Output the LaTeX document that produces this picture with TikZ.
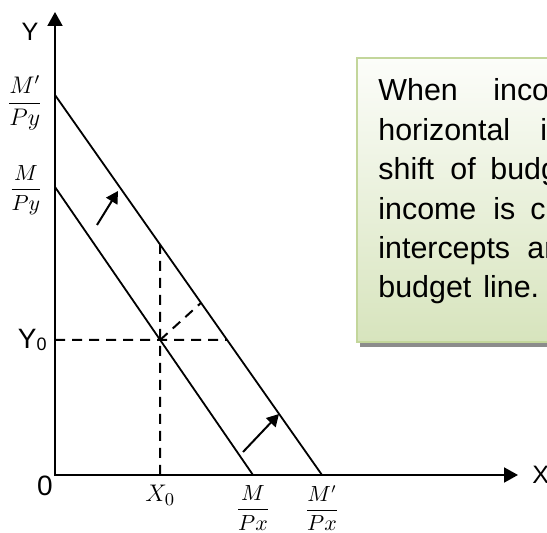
\documentclass[tikz,border=0pt]{standalone}
\usepackage{amsmath}
\usepackage[no-math]{fontspec}
\setmainfont{Liberation Sans}
\usepackage{tikz}
\usetikzlibrary{arrows.meta,positioning,calc}
\definecolor{boxedge}{HTML}{C3D69B}
\definecolor{boxtop}{HTML}{FCFDFA}
\definecolor{boxbot}{HTML}{D7E4BD}
\definecolor{shadowgray}{HTML}{8C8C8C}

\begin{document}
\begin{tikzpicture}[
  x=0.5pt,y=-0.5pt,
  axis/.style={{Triangle[length=7pt,width=7.5pt]}-{Triangle[length=7pt,width=7.5pt]},line width=1pt},
  budget/.style={line width=0.9pt},
  guide/.style={line width=1pt,dash pattern=on 5pt off 3.5pt},
  shiftarr/.style={-{Triangle[length=6pt,width=6.5pt]},line width=1pt},
  axlbl/.style={inner sep=0pt,font=\fontsize{12.6}{14}\selectfont},
  smallfrac/.style={inner sep=0pt,font=\fontsize{10.5}{12}\selectfont},
  bigfrac/.style={inner sep=0pt,font=\fontsize{12}{14}\selectfont},
  boxtext/.style={inner sep=0pt,anchor=base west,font=\fontsize{15.2}{19}\selectfont}
  ]
  \useasboundingbox (0,0) rectangle (547,533);
  % note box, cut off by the right edge
  \begin{scope}
    \clip (0,0) rectangle (547,533);
    \fill[shadowgray] (360,62) rectangle (566,347);
    \shadedraw[top color=boxtop,bottom color=boxbot,draw=boxedge,line width=1pt] (357,58) rectangle (563,342);
    \foreach \txt [count=\i] in {{\makebox[57.5pt][l]{When}inco},
        {\makebox[81pt][l]{horizontal}i},
        {\makebox[36pt][l]{shift}\makebox[20pt][l]{of}budg},
        {\makebox[57.5pt][l]{income}\makebox[18.5pt][l]{is}c},
        {\makebox[74.5pt][l]{intercepts}ar},
        {\makebox[52.5pt][l]{budget}line.}}
      \node[boxtext] (note\i) at (378,{101+39.4*(\i-1)}) {\txt};
  \end{scope}
  % axes
  \coordinate (O) at (55,475);
  \coordinate (ytop) at (55,12);
  \coordinate (xend) at (518,475);
  \draw[axis] (ytop) -- (O) -- (xend);
  % budget lines
  \coordinate (A1) at (55,187);
  \coordinate (B1) at (253,475);
  \coordinate (A2) at (55,95);
  \coordinate (B2) at (322,475);
  \draw[budget] (A1) -- (B1);
  \draw[budget] (A2) -- (B2);
  % dashed guides
  \coordinate (E) at ($(A1)!0.531!(B1)$);
  \coordinate (X0) at (E |- O);
  \coordinate (Y0) at (E -| O);
  \coordinate (Ed) at ($(E)+(44,-40)$);
  \coordinate (V) at (intersection of X0--E and A2--B2);
  \coordinate (H) at (intersection of Y0--E and A2--B2);
  \coordinate (D) at (intersection of E--Ed and A2--B2);
  \draw[guide] (X0) -- (V);
  \draw[guide] (Y0) -- (H);
  \draw[guide] (E) -- (D);
  % shift arrows
  \coordinate (s1) at (97,225);
  \coordinate (t1) at (118,191);
  \coordinate (s2) at (243,452);
  \coordinate (t2) at (279,414);
  \draw[shiftarr] (s1) -- (t1);
  \draw[shiftarr] (s2) -- (t2);
  % labels
  \node[axlbl] (ylbl) at (30,32) {Y};
  \node[axlbl,right=7pt of xend] (xlbl) {X};
  \node[axlbl,font=\fontsize{14}{16}\selectfont,below left=0.5pt and 1pt of O] (olbl) {0};
  \node[axlbl,font=\fontsize{14}{16}\selectfont,left=4pt of Y0] (y0lbl) {Y\raisebox{-1pt}{\fontsize{9}{10}\selectfont 0}};
  \node[bigfrac,left=6pt of A2,yshift=-4pt] (mpy2) {$\dfrac{M'}{Py}$};
  \node[smallfrac,left=6pt of A1,yshift=-1.5pt] (mpy1) {$\dfrac{M}{Py}$};
  \node[axlbl,font=\fontsize{13}{15}\selectfont,below=5pt of X0] (x0lbl) {$X_0$};
  \node[smallfrac,below=5pt of B1] (mpx1) {$\dfrac{M}{Px}$};
  \node[smallfrac,below=5pt of B2] (mpx2) {$\dfrac{M'}{Px}$};
\end{tikzpicture}
\end{document}
